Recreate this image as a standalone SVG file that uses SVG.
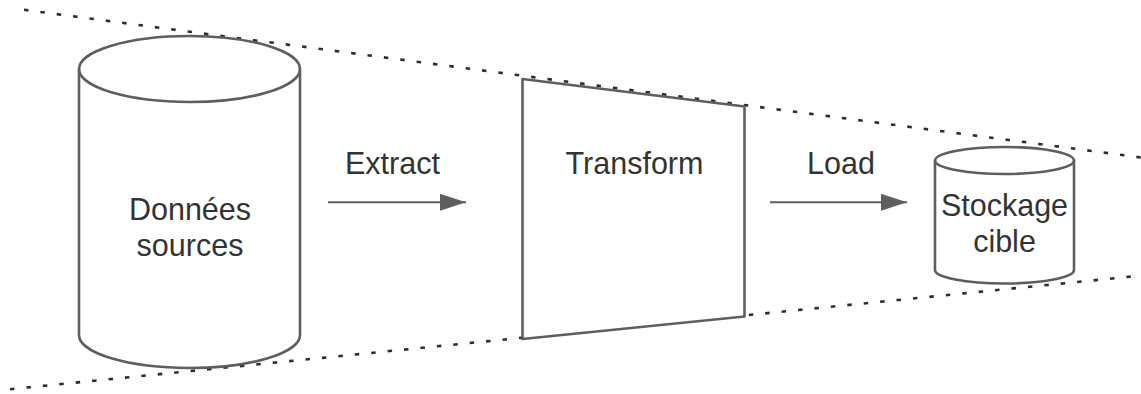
<svg xmlns="http://www.w3.org/2000/svg" width="1141" height="394" viewBox="0 0 1141 394">
  <style>
    .guide { fill: none; stroke: #2e2e2e; stroke-width: 2.6; stroke-dasharray: 4.5 12; }
    .shape { fill: #ffffff; stroke: #5e5e5e; stroke-width: 2.6; stroke-linejoin: round; }
    .rim { fill: none; stroke: #5e5e5e; stroke-width: 2.6; }
    .flow { fill: none; stroke: #5e5e5e; stroke-width: 2; }
    .label { font-family: "Liberation Sans", Arial, sans-serif; font-size: 30.5px; fill: #333333; text-anchor: middle; }
  </style>
  <defs>
    <marker id="arrowhead" viewBox="0 0 26 17" refX="26" refY="8.5" markerWidth="26" markerHeight="17" markerUnits="userSpaceOnUse" orient="auto">
      <path d="M0,0 L26,8.5 L0,17 Z" fill="#5e5e5e"/>
    </marker>
  </defs>

  <!-- converging funnel outline -->
  <g id="funnel">
    <line class="guide" x1="24" y1="9.8" x2="1141" y2="157.5"/>
    <line class="guide" x1="10" y1="389.2" x2="1141" y2="275.6"/>
  </g>

  <g id="source">
    <path class="shape" d="M79,69 A110.5,33 0 0 1 300,69 L300,335 A110.5,33 0 0 1 79,335 Z"/>
    <path class="rim" d="M79,69 A110.5,33 0 0 0 300,69"/>
    <text class="label" x="190" y="219.5">Données</text>
    <text class="label" x="190" y="255.5">sources</text>
  </g>

  <g id="transform">
    <path class="shape" d="M522.5,79 L744.5,106.5 L744.5,316.5 L522.5,339 Z"/>
    <text class="label" x="634.5" y="173.5">Transform</text>
  </g>

  <g id="target">
    <path class="shape" d="M935,160.5 A69.5,13.5 0 0 1 1074,160.5 L1074,270 A69.5,13.5 0 0 1 935,270 Z"/>
    <path class="rim" d="M935,160.5 A69.5,13.5 0 0 0 1074,160.5"/>
    <text class="label" x="1004.5" y="215.5">Stockage</text>
    <text class="label" x="1004.5" y="252">cible</text>
  </g>

  <g id="connectors">
    <line class="flow" x1="328" y1="202.3" x2="466" y2="202.3" marker-end="url(#arrowhead)"/>
    <line class="flow" x1="770" y1="202.3" x2="907" y2="202.3" marker-end="url(#arrowhead)"/>
    <text class="label" x="392.5" y="173.5">Extract</text>
    <text class="label" x="841" y="173.5">Load</text>
  </g>
</svg>
